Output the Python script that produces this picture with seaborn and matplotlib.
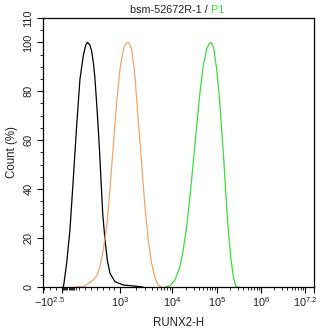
import numpy as np
import pandas as pd
import matplotlib
matplotlib.use("Agg")
import matplotlib.pyplot as plt
import seaborn as sns
from matplotlib.ticker import FixedLocator, FixedFormatter
from matplotlib.transforms import ScaledTranslation

# histogram curves (RUNX2-H intensity vs Count %)
black_x = [30, 41, 87, 143, 199, 257, 313, 370, 410, 440, 480, 512, 545, 569, 608, 642,
           671, 700, 739, 778, 824, 909, 1137, 2053, 2710]
black_y = [0, 1.5, 9.7, 23.4, 43.9, 65.8, 84.9, 94.5, 98.8, 100, 99, 96.5, 91, 85, 71.3, 57.6,
           43.9, 30.2, 19.3, 11.1, 5.6, 2.2, 0.8, 0.3, 0]

orange_x = [228, 370, 484, 540, 598, 654, 710, 768, 824, 880, 938, 994, 1137, 1250, 1380,
            1510, 1647, 1906, 2203, 2558, 2962, 3428, 3981, 4603, 5322, 6180]
orange_y = [0, 0.1, 1.9, 2.9, 4.5, 8.3, 15.2, 24.7, 39.8, 57.6, 75.4, 89, 97, 99.2, 100,
            99.3, 97.2, 86.3, 68.5, 50.8, 33, 19.3, 9.7, 4, 0.8, 0]

green_x = [7164, 8935, 11390, 14780, 17550, 20950, 24890, 29550, 35280, 41880, 49750, 59390,
           66000, 73150, 80000, 86880, 100000, 114500, 129800, 146300, 162300, 183000,
           207400, 237500, 273400, 308300]
green_y = [0, 0.4, 2.9, 8.3, 15.2, 24.7, 37.1, 50.8, 65.8, 79.5, 90.4, 97.2,
           99.2, 100, 99.2, 97.2, 89, 78.1, 64.4, 50.8, 37.1, 23.4,
           12.4, 4.2, 0.1, 0]

samples = ["isotype", "blank", "P1"]
colors = ["#000000", "#f2a46a", "#3ddc3d"]

xtick_vals = [-10**2.5, 0, 1e3, 1e4, 1e5, 1e6, 1e7, 10**7.2]
xtick_labels = [r"$-10^{2.5}$", "", r"$10^{3}$", r"$10^{4}$", r"$10^{5}$", r"$10^{6}$", "",
                r"$10^{7.2}$"]
ytick_vals = [0, 20, 40, 60, 80, 100, 110]

df = pd.concat([
    pd.DataFrame({"x": black_x, "y": black_y, "sample": samples[0]}),
    pd.DataFrame({"x": orange_x, "y": orange_y, "sample": samples[1]}),
    pd.DataFrame({"x": green_x, "y": green_y, "sample": samples[2]}),
])

# biexponential-ish display scale: linear below 1e3, log above
LO, HI = -10**2.5, 1e3


def fwd(x):
    x = np.asarray(x, dtype=float)
    lin = (x - LO) / (HI - LO) * 1.75
    lg = np.log10(np.maximum(x, HI))
    lg_part = np.where(lg < 4, 1.75 + (lg - 3) * 1.18, 2.93 + (lg - 4))
    return np.where(x <= HI, lin, lg_part)


def inv(u):
    u = np.asarray(u, dtype=float)
    with np.errstate(over="ignore"):
        lin = LO + u / 1.75 * (HI - LO)
        mid = 10 ** (3 + (u - 1.75) / 1.18)
        hi = 10 ** (4 + (u - 2.93))
    return np.where(u <= 1.75, lin, np.where(u <= 2.93, mid, hi))


sns.set_style("ticks")
plt.rcParams["font.family"] = ["Liberation Sans", "DejaVu Sans"]
plt.rcParams["mathtext.fontset"] = "custom"
plt.rcParams["mathtext.rm"] = "Liberation Sans"
plt.rcParams["mathtext.it"] = "Liberation Sans:italic"

fig = plt.figure(figsize=(3.28, 3.31), dpi=100)
ax = fig.add_axes([0.131, 0.133, 0.826, 0.813])

sns.lineplot(data=df, x="x", y="y", hue="sample", palette=dict(zip(samples, colors)),
             estimator=None, sort=False, lw=0.9, legend=False, ax=ax)

ax.set_xscale("function", functions=(fwd, inv))
ax.set_xlim(-10**2.5, 10**7.2)
ax.set_ylim(0, 110)

# ticks
ax.xaxis.set_major_locator(FixedLocator(xtick_vals))
ax.xaxis.set_major_formatter(FixedFormatter(xtick_labels))
minor_x = [-300, -200, -100] + list(range(20, 260, 20)) + list(range(300, 1000, 100))
for d in range(3, 7):
    minor_x += [m * 10**d for m in range(2, 10)]
ax.xaxis.set_minor_locator(FixedLocator(minor_x))
ax.yaxis.set_major_locator(FixedLocator(ytick_vals))
ax.yaxis.set_minor_locator(FixedLocator(list(range(5, 110, 5))))

ax.tick_params(which="major", length=4, width=0.8, color="black", labelsize=7.9,
               labelcolor="#222222", pad=2)
ax.tick_params(which="minor", length=2, width=0.6, color="black")
ax.tick_params(axis="y", labelrotation=90, pad=3)
for lab in ax.get_yticklabels():
    lab.set_va("center")

# edge labels on the x axis sit slightly inward
xl = ax.get_xticklabels()
xl[0].set_transform(xl[0].get_transform() + ScaledTranslation(5 / 72, 0, fig.dpi_scale_trans))
xl[-1].set_transform(xl[-1].get_transform() + ScaledTranslation(-6 / 72, 0, fig.dpi_scale_trans))

for s in ax.spines.values():
    s.set_linewidth(0.9)
    s.set_color("black")

ax.set_xlabel("RUNX2-H", fontsize=8.3, labelpad=6, color="#222222")
ax.set_ylabel("Count (%)", fontsize=8.3, labelpad=4, color="#222222")

# two-colour title
t1 = ax.text(0.321, 1.012, "bsm-52672R-1 /", transform=ax.transAxes, fontsize=7.8,
             color="#222222", ha="left", va="bottom")
ax.annotate(" P1", xy=(1, 0), xycoords=t1, fontsize=7.8, color="#3ddc3d",
            ha="left", va="bottom")

fig.savefig("out.png", dpi=100)
